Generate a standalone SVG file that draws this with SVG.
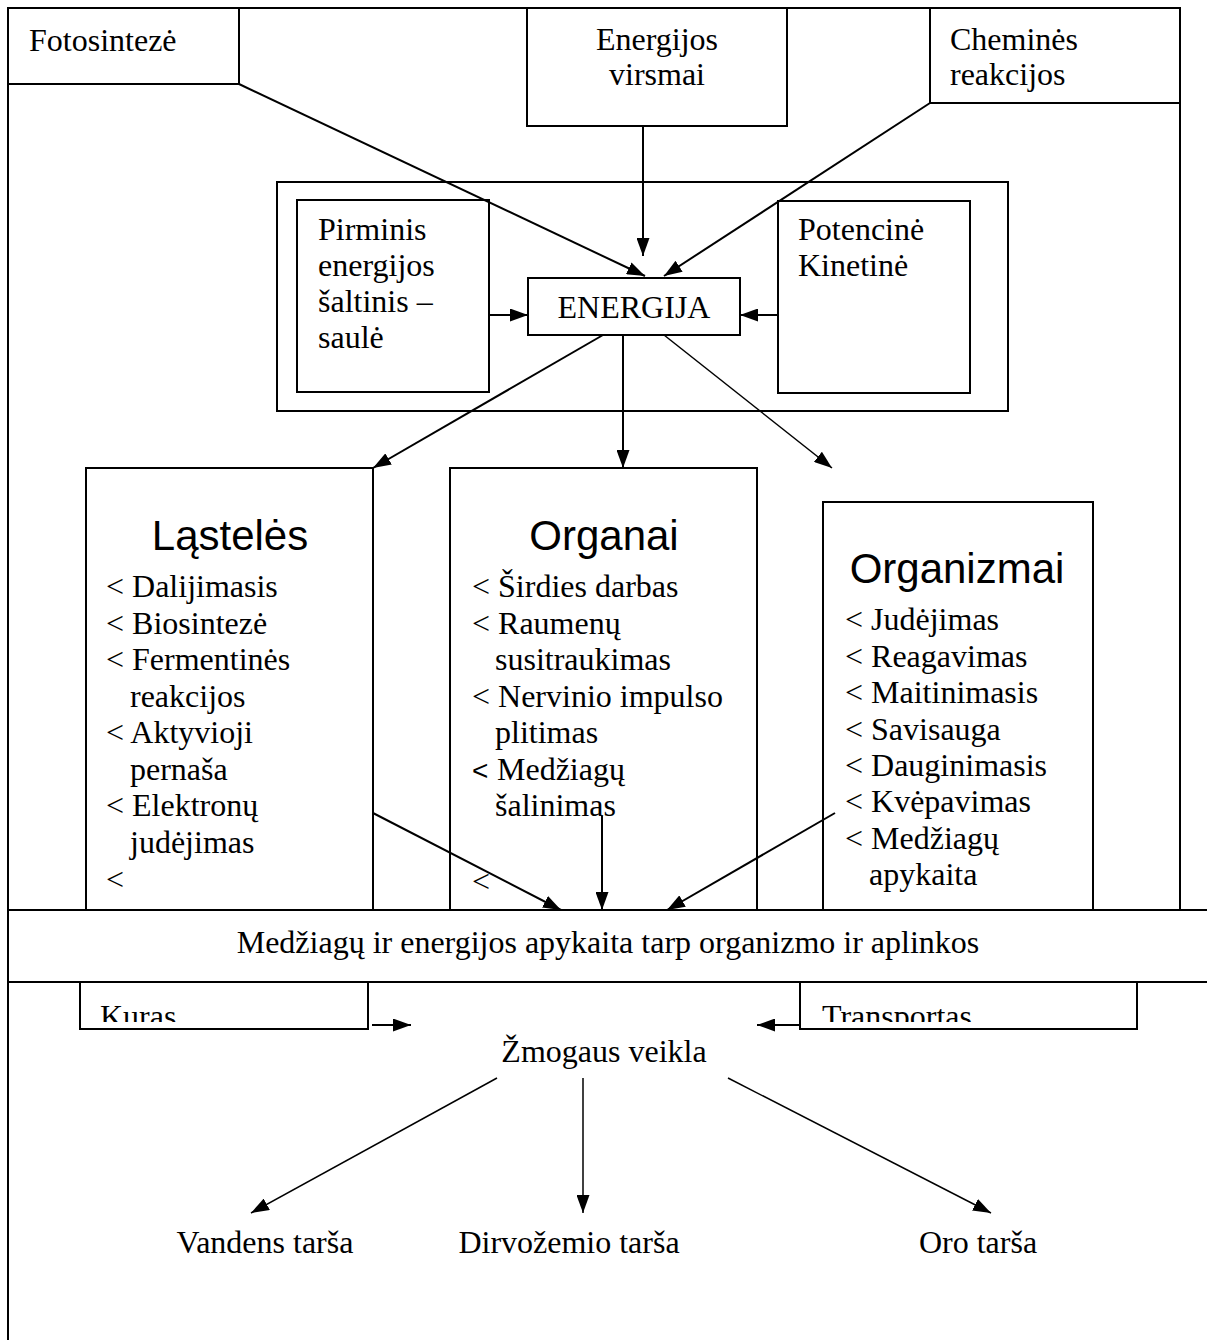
<svg xmlns="http://www.w3.org/2000/svg" width="1207" height="1340" viewBox="0 0 1207 1340">
<style>
.box{fill:#fff;stroke:#000;stroke-width:2}
.ln{fill:none;stroke:#000;stroke-width:2}
.t{font-family:"Liberation Serif","Times New Roman",serif;font-size:32px;fill:#000}
.h{font-family:"Liberation Sans",Arial,sans-serif;font-size:42px;fill:#000}
.c{text-anchor:middle}
.arr{fill:none;stroke:#000;stroke-width:2;marker-end:url(#ah)}
.arr1{fill:none;stroke:#000;stroke-width:1.5;marker-end:url(#ah)}
</style>
<defs>
<marker id="ah" markerUnits="userSpaceOnUse" markerWidth="18" markerHeight="13" viewBox="0 0 18 13" refX="18" refY="6.5" orient="auto">
<path d="M0,0 L18,6.5 L0,13 Z" fill="#000"/>
</marker>
<clipPath id="clipK"><rect x="80" y="982" width="290" height="40"/></clipPath>
<clipPath id="clipT"><rect x="800" y="982" width="337" height="40"/></clipPath>
</defs>
<rect width="1207" height="1340" fill="#fff"/>

<g id="frame">
<path class="ln" d="M8,8 H1180 V910 M8,8 V1340"/>
</g>

<g id="fotosinteze">
<rect class="box" x="8" y="8" width="231" height="76"/>
<text class="t" x="29" y="51">Fotosintezė</text>
</g>

<g id="energijos-virsmai">
<rect class="box" x="527" y="8" width="260" height="118"/>
<text class="t c" x="657" y="50">Energijos</text>
<text class="t c" x="657" y="85">virsmai</text>
</g>

<g id="chemines">
<rect class="box" x="930" y="8" width="250" height="95"/>
<text class="t" x="950" y="50">Cheminės</text>
<text class="t" x="950" y="85">reakcijos</text>
</g>

<g id="energy-group">
<rect class="box" x="277" y="182" width="731" height="229"/>
</g>

<g id="pirminis">
<rect class="box" x="297" y="200" width="192" height="192"/>
<text class="t" x="318" y="240">Pirminis</text>
<text class="t" x="318" y="276">energijos</text>
<text class="t" x="318" y="312">šaltinis –</text>
<text class="t" x="318" y="348">saulė</text>
</g>

<g id="potencine">
<rect class="box" x="778" y="201" width="192" height="192"/>
<text class="t" x="798" y="240">Potencinė</text>
<text class="t" x="798" y="276">Kinetinė</text>
</g>

<g id="energija">
<rect class="box" x="528" y="278" width="212" height="57"/>
<text class="t c" x="634" y="318">ENERGIJA</text>
</g>

<g id="lasteles">
<rect class="box" x="86" y="468" width="287" height="442"/>
<text class="h c" x="230" y="550">Ląstelės</text>
<text class="t" x="106" y="597">&lt; Dalijimasis</text>
<text class="t" x="106" y="634">&lt; Biosintezė</text>
<text class="t" x="106" y="670">&lt; Fermentinės</text>
<text class="t" x="130" y="707">reakcijos</text>
<text class="t" x="106" y="743">&lt; Aktyvioji</text>
<text class="t" x="130" y="780">pernaša</text>
<text class="t" x="106" y="816">&lt; Elektronų</text>
<text class="t" x="130" y="853">judėjimas</text>
<text class="t" x="106" y="890">&lt;</text>
</g>

<g id="organai">
<rect class="box" x="450" y="468" width="307" height="442"/>
<text class="h c" x="604" y="550">Organai</text>
<text class="t" x="472" y="597">&lt; Širdies darbas</text>
<text class="t" x="472" y="634">&lt; Raumenų</text>
<text class="t" x="495" y="670">susitraukimas</text>
<text class="t" x="472" y="707">&lt; Nervinio impulso</text>
<text class="t" x="495" y="743">plitimas</text>
<text class="h" x="472" y="780" style="font-size:28px">&lt;</text>
<text class="t" x="497" y="780">Medžiagų</text>
<text class="t" x="495" y="816">šalinimas</text>
<text class="t" x="472" y="892">&lt;</text>
</g>

<g id="organizmai">
<rect class="box" x="823" y="502" width="270" height="408"/>
<text class="h c" x="957" y="583">Organizmai</text>
<text class="t" x="845" y="630">&lt; Judėjimas</text>
<text class="t" x="845" y="667">&lt; Reagavimas</text>
<text class="t" x="845" y="703">&lt; Maitinimasis</text>
<text class="t" x="845" y="740">&lt; Savisauga</text>
<text class="t" x="845" y="776">&lt; Dauginimasis</text>
<text class="t" x="845" y="812">&lt; Kvėpavimas</text>
<text class="t" x="845" y="849">&lt; Medžiagų</text>
<text class="t" x="869" y="885">apykaita</text>
</g>

<g id="apykaita">
<rect class="box" x="8" y="910" width="1205" height="72"/>
<text class="t c" x="608" y="953">Medžiagų ir energijos apykaita tarp organizmo ir aplinkos</text>
</g>

<g id="bottom-frame">
<path class="ln" d="M8,982 V1340"/>
</g>

<g id="kuras">
<rect class="box" x="80" y="982" width="288" height="47"/>
<text class="t" x="100" y="1027" clip-path="url(#clipK)">Kuras</text>
</g>

<g id="transportas">
<rect class="box" x="800" y="982" width="337" height="47"/>
<text class="t" x="822" y="1027" clip-path="url(#clipT)">Transportas</text>
</g>

<g id="zmogaus-veikla">
<text class="t c" x="604" y="1062">Žmogaus veikla</text>
</g>

<g id="vandens">
<text class="t c" x="265" y="1253">Vandens tarša</text>
</g>
<g id="dirvozemio">
<text class="t c" x="569" y="1253">Dirvožemio tarša</text>
</g>
<g id="oro">
<text class="t c" x="978" y="1253">Oro tarša</text>
</g>

<g id="connectors">
<line class="arr" x1="239" y1="84" x2="645" y2="276"/>
<line class="arr" x1="643" y1="126" x2="643" y2="256"/>
<line class="arr" x1="930" y1="103" x2="664" y2="276"/>
<line class="arr" x1="489" y1="315" x2="528" y2="315"/>
<line class="arr" x1="778" y1="315" x2="740" y2="315"/>
<line class="arr" x1="603" y1="335" x2="373" y2="468"/>
<line class="arr" x1="623" y1="335" x2="623" y2="468"/>
<line class="arr1" x1="664" y1="335" x2="832" y2="468"/>
<line class="arr" x1="373" y1="813" x2="561" y2="910"/>
<line class="arr" x1="602" y1="816" x2="602" y2="910"/>
<line class="arr" x1="835" y1="813" x2="667" y2="910"/>
<line class="arr" x1="372" y1="1025" x2="411" y2="1025"/>
<line class="arr" x1="800" y1="1025" x2="757" y2="1025"/>
<line class="arr1" x1="497" y1="1078" x2="251" y2="1213"/>
<line class="arr1" x1="583" y1="1078" x2="583" y2="1213"/>
<line class="arr1" x1="728" y1="1078" x2="991" y2="1213"/>
</g>
</svg>
